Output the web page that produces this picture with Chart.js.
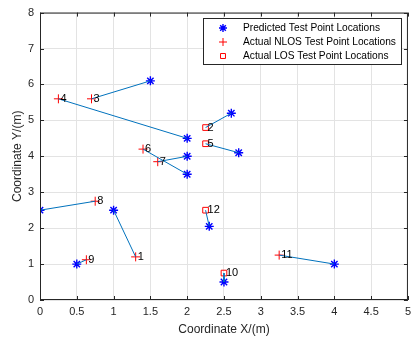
<!DOCTYPE html>
<html>
<head>
<meta charset="utf-8">
<script src="https://cdn.jsdelivr.net/npm/chart.js@4/dist/chart.umd.min.js"></script>
<style>
  html, body { margin: 0; padding: 0; background: #fff; }
  #wrap { width: 416px; height: 337px; }
</style>
</head>
<body>
<div id="wrap"><canvas id="c" width="416" height="337"></canvas></div>
<script>
// test points
const pointIds = ['1', '2', '3', '4', '5', '6', '7', '8', '9', '10', '11', '12'];
const actualX = [1.3, 2.25, 0.7, 0.25, 2.25, 1.4, 1.6, 0.75, 0.63, 2.5, 3.25, 2.25];
const actualY = [1.2, 4.8, 5.6, 5.6, 4.35, 4.2, 3.85, 2.75, 1.12, 0.75, 1.25, 2.5];
const predX = [1.0, 2.6, 1.5, 2.0, 2.7, 2.0, 2.0, 0.0, 0.5, 2.5, 4.0, 2.3];
const predY = [2.5, 5.2, 6.1, 4.5, 4.1, 3.5, 4.0, 2.5, 1.0, 0.5, 1.0, 2.05];
const isLOS = [false, true, false, false, true, false, false, false, false, true, false, true];

const xTicks = [0, 0.5, 1, 1.5, 2, 2.5, 3, 3.5, 4, 4.5, 5];
const yTicks = [0, 1, 2, 3, 4, 5, 6, 7, 8];

const legendLabels = [
    'Predicted Test Point Locations',
    'Actual NLOS Test Point Locations',
    'Actual LOS Test Point Locations'
];

const LINE_BLUE = 'rgb(0, 114, 189)';
const FONT = 'Liberation Sans, Arial, Helvetica, sans-serif';

// one segment per test point, from actual to predicted
const segments = pointIds.map((id, i) => ({
    type: 'line',
    data: [{ x: actualX[i], y: actualY[i] }, { x: predX[i], y: predY[i] }],
    borderColor: LINE_BLUE,
    borderWidth: 1,
    pointRadius: 0,
    fill: false
}));

const predicted = {
    type: 'scatter',
    data: predX.map((x, i) => ({ x, y: predY[i] })),
    pointStyle: 'star',
    pointRadius: 4.5,
    borderColor: 'rgb(0, 0, 255)',
    backgroundColor: 'rgb(0, 0, 255)',
    borderWidth: 1.4
};

const nlos = {
    type: 'scatter',
    data: actualX.map((x, i) => ({ x, y: actualY[i] })).filter((p, i) => !isLOS[i]),
    pointStyle: 'cross',
    pointRadius: 4.5,
    borderColor: 'rgb(255, 0, 0)',
    borderWidth: 1
};

const los = {
    type: 'scatter',
    data: actualX.map((x, i) => ({ x, y: actualY[i] })).filter((p, i) => isLOS[i]),
    pointStyle: 'rect',
    pointRadius: 4,
    borderColor: 'rgb(255, 0, 0)',
    backgroundColor: 'rgba(0,0,0,0)',
    borderWidth: 1
};

// box, inward ticks, point numbers, legend
const decorations = {
    id: 'decorations',
    afterDatasetsDraw(chart) {
        const ctx = chart.ctx;
        const a = chart.chartArea;
        const xs = chart.scales.x, ys = chart.scales.y;
        ctx.save();

        // point numbers
        ctx.fillStyle = '#000';
        ctx.font = '11px ' + FONT;
        ctx.textBaseline = 'middle';
        ctx.textAlign = 'left';
        pointIds.forEach((id, i) => {
            ctx.fillText(id, xs.getPixelForValue(actualX[i]) + 2, ys.getPixelForValue(actualY[i]));
        });

        // axes box with inward ticks
        ctx.strokeStyle = '#262626';
        ctx.lineWidth = 1;
        ctx.strokeRect(a.left + 0.5, a.top + 0.5, a.right - a.left - 1, a.bottom - a.top - 1);
        ctx.beginPath();
        xTicks.forEach(v => {
            const px = Math.round(xs.getPixelForValue(v)) + 0.5;
            ctx.moveTo(px, a.bottom); ctx.lineTo(px, a.bottom - 4);
            ctx.moveTo(px, a.top); ctx.lineTo(px, a.top + 4);
        });
        yTicks.forEach(v => {
            const py = Math.round(ys.getPixelForValue(v)) + 0.5;
            ctx.moveTo(a.left, py); ctx.lineTo(a.left + 4, py);
            ctx.moveTo(a.right, py); ctx.lineTo(a.right - 4, py);
        });
        ctx.stroke();

        // legend
        const lx = 203, ly = 18, lw = 198, lh = 46;
        ctx.fillStyle = '#fff';
        ctx.fillRect(lx, ly, lw, lh);
        ctx.strokeStyle = '#262626';
        ctx.strokeRect(lx + 0.5, ly + 0.5, lw, lh);
        ctx.font = '10.2px ' + FONT;
        const styles = [predicted, nlos, los];
        legendLabels.forEach((txt, i) => {
            const cy = ly + 10 + i * 14;
            const ds = styles[i];
            ctx.strokeStyle = ds.borderColor;
            ctx.fillStyle = ds.backgroundColor || ds.borderColor;
            ctx.lineWidth = ds.borderWidth;
            Chart.helpers.drawPoint(ctx, {
                pointStyle: ds.pointStyle,
                radius: ds.pointStyle === 'rect' ? 3.5 : 4,
                borderWidth: ds.borderWidth,
                rotation: 0
            }, lx + 20, cy);
            ctx.fillStyle = '#000';
            ctx.fillText(txt, lx + 40, cy);
        });

        ctx.restore();
    }
};

new Chart(document.getElementById('c'), {
    data: { datasets: [...segments, predicted, nlos, los] },
    options: {
        responsive: false,
        animation: false,
        layout: { padding: { top: 2, right: 0, left: 10, bottom: 0 } },
        plugins: { legend: { display: false }, tooltip: { enabled: false } },
        scales: {
            x: {
                type: 'linear',
                min: 0, max: 5,
                afterBuildTicks: s => { s.ticks = xTicks.map(v => ({ value: v })); },
                afterFit: s => { s.height = 37; },
                grid: { color: '#e3e3e3', drawTicks: false },
                border: { display: false },
                ticks: {
                    color: '#262626', font: { size: 11, family: FONT }, padding: 5, maxRotation: 0,
                    callback: v => String(v)
                },
                title: { display: true, text: 'Coordinate X/(m)', color: '#262626', font: { size: 12, family: FONT }, padding: { top: 2, bottom: 0 } }
            },
            y: {
                type: 'linear',
                min: 0, max: 8,
                afterBuildTicks: s => { s.ticks = yTicks.map(v => ({ value: v })); },
                afterFit: s => { s.width = 30; },
                grid: { color: '#e3e3e3', drawTicks: false },
                border: { display: false },
                ticks: { color: '#262626', font: { size: 11, family: FONT }, padding: 6, callback: v => String(v) },
                title: { display: true, text: 'Coordinate Y/(m)', color: '#262626', font: { size: 12, family: FONT }, padding: { top: 0, bottom: 2 } }
            }
        }
    },
    plugins: [decorations]
});
</script>
</body>
</html>
